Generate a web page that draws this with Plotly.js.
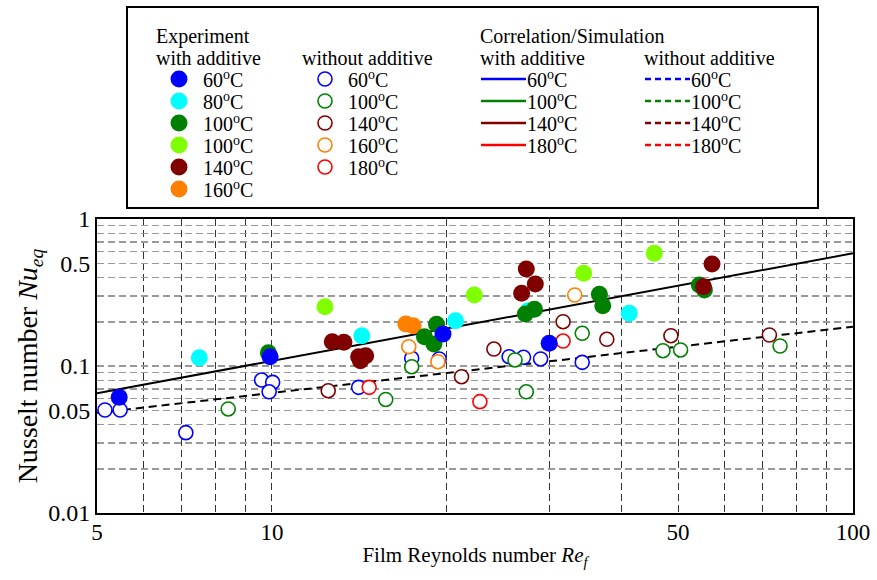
<!DOCTYPE html>
<html><head><meta charset="utf-8">
<script src="https://cdn.plot.ly/plotly-3.0.1.min.js"></script>
<style>body{margin:0;background:#fff}</style>
</head><body><div id="chart" style="width:877px;height:580px"></div>
<script>
// ---------- Experiment, with additive (filled) ----------
const add60X  = [5.46, 9.93, 19.7, 30.0];
const add60Y  = [0.0612, 0.1157, 0.165, 0.1427];
const add80X  = [7.50, 14.28, 20.7, 27.6, 41.2];
const add80Y  = [0.1139, 0.1607, 0.2033, 0.2378, 0.2284];
const add100X = [9.86, 19.2, 18.3, 19.0, 27.3, 28.3, 36.6, 37.1, 54.4, 55.5];
const add100Y = [0.1232, 0.1922, 0.1582, 0.1411, 0.2259, 0.2430, 0.3074, 0.2572, 0.3556, 0.3289];
const add100bX = [12.34, 22.3, 34.4, 45.5];
const add100bY = [0.2532, 0.3041, 0.4272, 0.5842];
const add140X = [12.7, 13.3, 14.1, 14.5, 14.2, 27.4, 28.4, 26.9, 57.2, 55.3];
const add140Y = [0.1463, 0.1450, 0.1157, 0.1175, 0.1087, 0.4569, 0.3612, 0.3123, 0.4942, 0.3463];
const add160X = [17.0, 17.5];
const add160Y = [0.1931, 0.1879];
// ---------- Experiment, without additive (open) ----------
const no60X  = [5.16, 5.48, 7.11, 9.60, 10.03, 9.89, 14.1, 17.4, 19.4, 25.6, 27.1, 29.0, 34.2];
const no60Y  = [0.0502, 0.0502, 0.0352, 0.0803, 0.0774, 0.0668, 0.0716, 0.1128, 0.1116, 0.1157, 0.1146, 0.1116, 0.1059];
const no100X = [8.41, 15.7, 17.4, 26.2, 27.4, 34.2, 47.1, 50.5, 74.9];
const no100Y = [0.0510, 0.0592, 0.0989, 0.1099, 0.0668, 0.1669, 0.1271, 0.1285, 0.1368];
const no140X = [12.5, 21.2, 24.1, 31.7, 37.7, 48.6, 71.8];
const no140Y = [0.0679, 0.0846, 0.1305, 0.2001, 0.1519, 0.1607, 0.1625];
const no160X = [17.2, 19.3, 33.2];
const no160Y = [0.1353, 0.1069, 0.3041];
const no180X = [14.7, 22.8, 31.7];
const no180Y = [0.0716, 0.0572, 0.1479];
// ---------- Correlation lines ----------
const corrWithX = [5, 100];
const corrWithY = [0.0652, 0.584];
const corrWithoutX = [5, 100];
const corrWithoutY = [0.048, 0.185];
// ---------- Tick labels ----------
const xTickVals = [5, 10, 50, 100];
const xTickText = ['5', '10', '50', '100'];
const xMinor = [6, 7, 8, 9, 20, 30, 40, 60, 70, 80, 90];
const yTickVals = [0.01, 0.05, 0.1, 0.5, 1];
const yTickText = ['0.01', '0.05', '0.1', '0.5', '1'];
const yMinor = [0.02, 0.03, 0.04, 0.06, 0.07, 0.08, 0.09, 0.2, 0.3, 0.4, 0.6, 0.7, 0.8, 0.9];
// ---------- Legend contents ----------
const legAddTemps = ['60', '80', '100', '100', '140', '160'];
const legAddColors = ['#0000ff', '#00ffff', '#008000', '#80ff00', '#800000', '#ff8000'];
const legNoTemps = ['60', '100', '140', '160', '180'];
const legNoColors = ['#0000ff', '#008000', '#800000', '#ff8000', '#ff0000'];
const legCorrTemps = ['60', '100', '140', '180'];
const legCorrColors = ['#0000ff', '#008000', '#800000', '#ff0000'];

const FONT = 'Liberation Serif, Times New Roman, serif';
const traces = [];
traces.push({x: corrWithX, y: corrWithY, mode: 'lines', line: {color: '#000', width: 2}, hoverinfo: 'skip'});
traces.push({x: corrWithoutX, y: corrWithoutY, mode: 'lines', line: {color: '#000', width: 2, dash: '8px,5px'}, hoverinfo: 'skip'});
function openTr(x, y, c) {
  return {x, y, mode: 'markers', marker: {symbol: 'circle', size: 14, color: '#fff', line: {color: c, width: 1.6}}};
}
function fillTr(x, y, c) {
  return {x, y, mode: 'markers', marker: {symbol: 'circle', size: 17, color: c, line: {width: 0}}};
}
traces.push(openTr(no60X, no60Y, '#0000ff'));
traces.push(openTr(no100X, no100Y, '#008000'));
traces.push(openTr(no140X, no140Y, '#800000'));
traces.push(openTr(no180X, no180Y, '#ff0000'));
traces.push(openTr(no160X, no160Y, '#ff8000'));
traces.push(fillTr(add80X, add80Y, '#00ffff'));
traces.push(fillTr(add100bX, add100bY, '#80ff00'));
traces.push(fillTr(add160X, add160Y, '#ff8000'));
traces.push(fillTr(add100X, add100Y, '#008000'));
traces.push(fillTr(add140X, add140Y, '#800000'));
traces.push(fillTr(add60X, add60Y, '#0000ff'));

// ---------- Legend (drawn on a helper axis in pixel-like units) ----------
const L = {c1: 157, m1: 179, t1: 202, c2: 303, m2: 325, t2: 347, c3: 481, l3: 526, c4: 645, l4: 690,
           row0: 36, row1: 58, rows: [79, 101, 123, 145, 167, 189]};
traces.push({x: legAddTemps.map(() => L.m1), y: L.rows.slice(0, legAddTemps.length), xaxis: 'x2', yaxis: 'y2',
  mode: 'markers', marker: {size: 17, color: legAddColors, line: {width: 0}}, hoverinfo: 'skip'});
traces.push({x: legNoTemps.map(() => L.m2), y: L.rows.slice(0, legNoTemps.length), xaxis: 'x2', yaxis: 'y2',
  mode: 'markers', marker: {size: 14, color: '#fff', line: {color: legNoColors, width: 1.6}}, hoverinfo: 'skip'});
legCorrTemps.forEach((t, i) => {
  traces.push({x: [L.c3, L.l3], y: [L.rows[i], L.rows[i]], xaxis: 'x2', yaxis: 'y2', mode: 'lines',
    line: {color: legCorrColors[i], width: 2.5}, hoverinfo: 'skip'});
  traces.push({x: [L.c4, L.l4], y: [L.rows[i], L.rows[i]], xaxis: 'x2', yaxis: 'y2', mode: 'lines',
    line: {color: legCorrColors[i], width: 2.5, dash: '6px,4px'}, hoverinfo: 'skip'});
});
const ann = [];
function txt(x, y, s) {
  ann.push({x, y, xref: 'x2', yref: 'y2', text: s, showarrow: false, xanchor: 'left', yanchor: 'middle',
    font: {family: FONT, size: 20, color: '#000'}, borderpad: 0});
}
const deg = t => t + '<sup>o</sup>C';
txt(L.c1 - 2, L.row0, 'Experiment');
txt(L.c1 - 2, L.row1, 'with additive');
legAddTemps.forEach((t, i) => txt(L.t1, L.rows[i], deg(t)));
txt(L.c2 - 2, L.row1, 'without additive');
legNoTemps.forEach((t, i) => txt(L.t2, L.rows[i], deg(t)));
txt(L.c3 - 2, L.row0, 'Correlation/Simulation');
txt(L.c3 - 2, L.row1, 'with additive');
legCorrTemps.forEach((t, i) => txt(L.l3, L.rows[i], deg(t)));
txt(L.c4 - 2, L.row1, 'without additive');
legCorrTemps.forEach((t, i) => txt(L.l4, L.rows[i], deg(t)));

const plotH = 513;
const layout = {
  width: 877, height: 580, showlegend: false,
  margin: {l: 97, r: 24, t: 0, b: 67},
  paper_bgcolor: '#fff', plot_bgcolor: '#fff',
  font: {family: FONT, color: '#000', size: 22},
  xaxis: {type: 'log', range: [Math.log10(5), 2], domain: [0, 1], anchor: 'y',
    tickmode: 'array', tickvals: xTickVals, ticktext: xTickText, ticks: '',
    tickfont: {family: FONT, size: 23, color: '#000'}, ticklabelstandoff: -3,
    showgrid: true, gridcolor: '#333', gridwidth: 1, griddash: '7px,4px',
    minor: {tickmode: 'array', tickvals: xMinor, showgrid: true, gridcolor: '#333', gridwidth: 1, griddash: '7px,4px', ticks: ''},
    showline: true, mirror: true, linecolor: '#000', linewidth: 2, zeroline: false,
    title: {text: 'Film Reynolds number <i>Re</i><sub><i>f</i></sub>', font: {family: FONT, size: 21, color: '#000'}, standoff: 4}},
  yaxis: {type: 'log', range: [-2, 0], domain: [0, (plotH - 219) / plotH], anchor: 'x',
    tickmode: 'array', tickvals: yTickVals, ticktext: yTickText, ticks: '',
    tickfont: {family: FONT, size: 24, color: '#000'},
    showgrid: true, gridcolor: '#999', gridwidth: 1.5, griddash: '7px,4px',
    minor: {tickmode: 'array', tickvals: yMinor, showgrid: true, gridcolor: '#999', gridwidth: 1.5, griddash: '7px,4px', ticks: ''},
    showline: true, mirror: true, linecolor: '#000', linewidth: 2, zeroline: false,
    title: {text: 'Nusselt number <i>Nu</i><sub><i>eq</i></sub>', font: {family: FONT, size: 28, color: '#000'}, standoff: 2}},
  xaxis2: {domain: [(128 - 97) / 756, (817 - 97) / 756], range: [128, 817], anchor: 'y2',
    showgrid: false, showticklabels: false, ticks: '', zeroline: false,
    showline: true, mirror: true, linecolor: '#000', linewidth: 2},
  yaxis2: {domain: [(plotH - 207) / plotH, (plotH - 8) / plotH], range: [207, 8], anchor: 'x2',
    showgrid: false, showticklabels: false, ticks: '', zeroline: false,
    showline: true, mirror: true, linecolor: '#000', linewidth: 2},
  annotations: ann
};
Plotly.newPlot('chart', traces, layout, {displayModeBar: false, staticPlot: true});
</script></body></html>
